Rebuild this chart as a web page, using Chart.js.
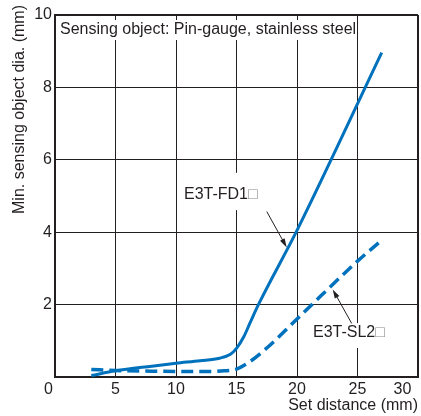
<!DOCTYPE html>
<html lang="en">
<head>
<meta charset="UTF-8">
<title>Min. sensing object dia. vs set distance</title>
<script src="https://cdn.jsdelivr.net/npm/chart.js"></script>
<style>
  body { margin: 0; background: #fff; }
  #wrap { width: 421px; height: 416px; }
</style>
</head>
<body>
<div id="wrap"><canvas id="chart" width="421" height="416"></canvas></div>
<script>
// values (set distance in mm -> min. dia. in mm)
const fd1Dist = [3, 5, 8, 10, 12, 13.6, 14.5, 15, 15.6, 16.1, 16.8, 20, 27];
const fd1Dia  = [0.04, 0.17, 0.30, 0.38, 0.45, 0.52, 0.63, 0.79, 1.11, 1.48, 1.99, 4.05, 8.96];
const sl2Dist = [3, 5, 8, 12, 14, 15, 16, 17.5, 20, 22, 25, 27];
const sl2Dia  = [0.21, 0.18, 0.16, 0.15, 0.17, 0.22, 0.40, 0.80, 1.60, 2.25, 3.20, 3.78];
const seriesNames = ['E3T-FD1', 'E3T-SL2'];
const xTickLabels = ['0', '5', '10', '15', '20', '25', '30'];
const yTickLabels = ['', '2', '4', '6', '8', '10'];
const noteText = 'Sensing object: Pin-gauge, stainless steel';
const xTitle = 'Set distance (mm)';
const yTitle = 'Min. sensing object dia. (mm)';

const FONT = "'Liberation Sans', Arial, Helvetica, sans-serif";
const INK = '#231f20';
const BLUE = '#0071bc';

// callouts, placed in data units
const callouts = [
  { text: seriesNames[0], at: [10.66, 5.04], box: [10.3, 5.64, 16.9, 4.61], from: [17.5, 4.57], to: [19.15, 3.58] },
  { text: seriesNames[1], at: [21.32, 1.24], box: [21.0, 1.49, 27.4, 0.80], from: [24.52, 1.48], to: [22.95, 2.42] }
];
const noteBox = [0.17, 9.86, 24.9, 9.31];
const noteAt = [0.41, 9.59];

const notes = {
  id: 'notes',
  beforeDatasetsDraw(chart) {
    const { ctx, scales: { x, y } } = chart;
    ctx.save();
    ctx.fillStyle = '#fff';
    [noteBox, ...callouts.map(c => c.box)].forEach(b => {
      const l = x.getPixelForValue(b[0]), t = y.getPixelForValue(b[1]);
      const r = x.getPixelForValue(b[2]), bt = y.getPixelForValue(b[3]);
      ctx.fillRect(l, t, r - l, bt - t);
    });
    ctx.restore();
  },
  afterDatasetsDraw(chart) {
    const { ctx, scales: { x, y }, chartArea } = chart;
    ctx.save();
    ctx.font = '16px ' + FONT;
    ctx.textBaseline = 'middle';
    ctx.textAlign = 'left';
    ctx.fillStyle = INK;
    ctx.fillText(noteText, x.getPixelForValue(noteAt[0]), y.getPixelForValue(noteAt[1]));

    callouts.forEach(c => {
      const tx = x.getPixelForValue(c.at[0]), ty = y.getPixelForValue(c.at[1]);
      ctx.fillStyle = INK;
      ctx.fillText(c.text, tx, ty);
      ctx.fillStyle = '#8a8a8a';
      ctx.fillText('\u25A1', tx + ctx.measureText(c.text).width, ty);

      // arrow with filled head
      const x0 = x.getPixelForValue(c.from[0]), y0 = y.getPixelForValue(c.from[1]);
      const x1 = x.getPixelForValue(c.to[0]), y1 = y.getPixelForValue(c.to[1]);
      const a = Math.atan2(y1 - y0, x1 - x0);
      ctx.strokeStyle = INK;
      ctx.lineWidth = 1;
      ctx.beginPath();
      ctx.moveTo(x0, y0);
      ctx.lineTo(x1 - 6 * Math.cos(a), y1 - 6 * Math.sin(a));
      ctx.stroke();
      ctx.fillStyle = INK;
      ctx.beginPath();
      ctx.moveTo(x1, y1);
      ctx.lineTo(x1 - 9 * Math.cos(a) + 2.6 * Math.sin(a), y1 - 9 * Math.sin(a) - 2.6 * Math.cos(a));
      ctx.lineTo(x1 - 9 * Math.cos(a) - 2.6 * Math.sin(a), y1 - 9 * Math.sin(a) + 2.6 * Math.cos(a));
      ctx.closePath();
      ctx.fill();
    });

    // y axis title, ending a little above the plot
    ctx.translate(chartArea.left - 35, chartArea.top - 10);
    ctx.rotate(-Math.PI / 2);
    ctx.textAlign = 'right';
    ctx.fillStyle = INK;
    ctx.fillText(yTitle, 0, 0);
    ctx.restore();
  }
};

new Chart(document.getElementById('chart'), {
  type: 'line',
  data: {
    datasets: [
      {
        label: seriesNames[0],
        data: fd1Dist.map((d, i) => ({ x: d, y: fd1Dia[i] })),
        borderColor: BLUE,
        borderWidth: 3,
        pointRadius: 0,
        cubicInterpolationMode: 'monotone',
        fill: false
      },
      {
        label: seriesNames[1],
        data: sl2Dist.map((d, i) => ({ x: d, y: sl2Dia[i] })),
        borderColor: BLUE,
        borderWidth: 3.5,
        borderDash: [12, 6],
        borderCapStyle: 'butt',
        pointRadius: 0,
        cubicInterpolationMode: 'monotone',
        fill: false
      }
    ]
  },
  options: {
    responsive: false,
    animation: false,
    devicePixelRatio: 1,
    layout: { padding: { left: 0, top: 15, right: 3, bottom: 0 } },
    plugins: { legend: { display: false }, tooltip: { enabled: false } },
    scales: {
      x: {
        type: 'linear',
        min: 0,
        max: 30,
        afterFit: s => { s.height = 39; s.paddingLeft = 0; s.paddingRight = 0; },
        grid: {
          color: INK,
          drawTicks: false,
          lineWidth: c => (c.tick && c.tick.value === 30 ? 2 : 1)
        },
        border: { color: INK, width: 2 },
        ticks: {
          stepSize: 5,
          autoSkip: false,
          maxRotation: 0,
          padding: 3,
          color: INK,
          font: { size: 16, family: FONT },
          // nudge the end labels left like the original
          callback: (v, i) => {
            const t = xTickLabels[i];
            if (i === 0) return t + '   ';
            if (i === xTickLabels.length - 1) return t + '       ';
            return t;
          }
        },
        title: {
          display: true,
          text: xTitle,
          align: 'end',
          color: INK,
          font: { size: 16, family: FONT },
          padding: { top: 0, bottom: 1 }
        }
      },
      y: {
        min: 0,
        max: 10,
        afterFit: s => { s.width = 55; s.paddingTop = 0; s.paddingBottom = 0; },
        grid: {
          color: INK,
          drawTicks: false,
          lineWidth: c => (c.tick && c.tick.value === 10 ? 2 : 1)
        },
        border: { color: INK, width: 2 },
        ticks: {
          stepSize: 2,
          padding: 3,
          color: INK,
          font: { size: 16, family: FONT },
          callback: (v, i) => yTickLabels[i]
        }
      }
    }
  },
  plugins: [notes]
});
</script>
</body>
</html>
